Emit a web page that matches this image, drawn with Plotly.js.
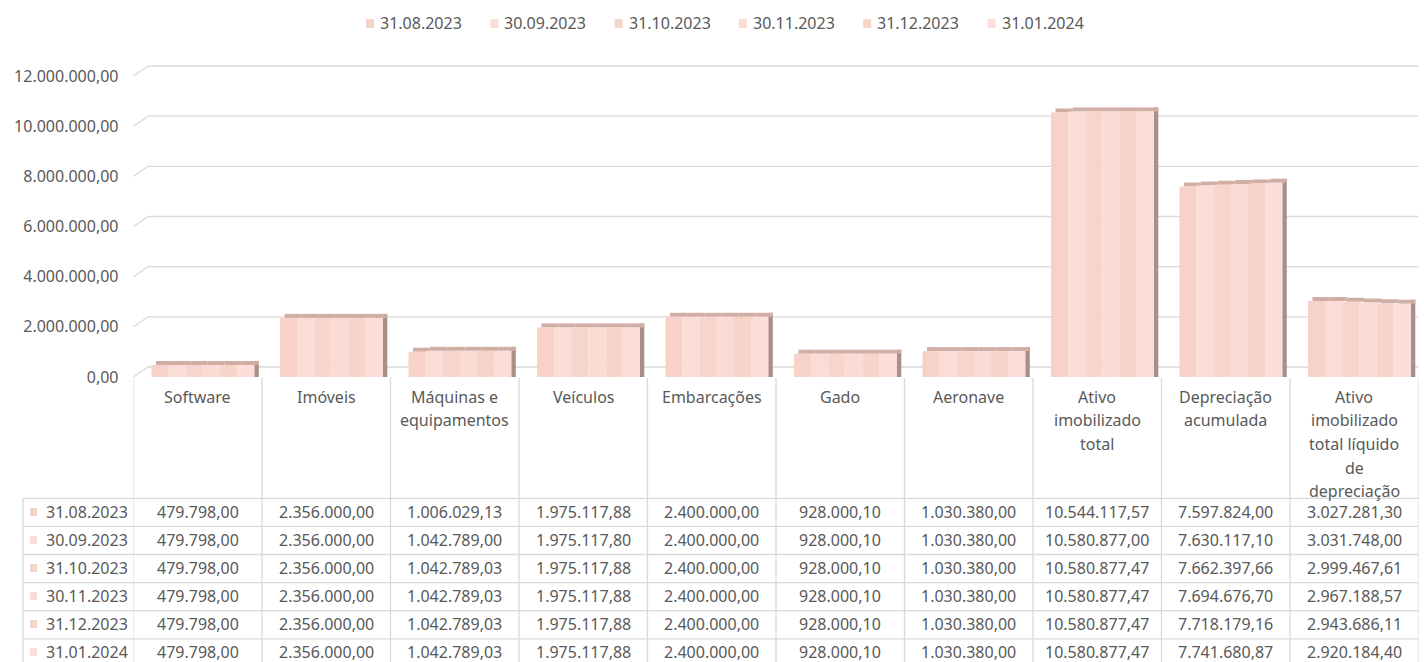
<!DOCTYPE html>
<html><head><meta charset="utf-8">
<script src="https://cdn.plot.ly/plotly-3.0.1.min.js"></script>
<style>html,body{margin:0;padding:0;background:#fff}#chart{width:1424px;height:662px}</style>
</head><body><div id="chart"></div>
<script>
const categories = ['Software','Imóveis','Máquinas e equipamentos','Veículos','Embarcações','Gado','Aeronave','Ativo imobilizado total','Depreciação acumulada','Ativo imobilizado total líquido de depreciação'];
const categoryLines = [['Software'],['Imóveis'],['Máquinas e','equipamentos'],['Veículos'],['Embarcações'],['Gado'],['Aeronave'],['Ativo','imobilizado','total'],['Depreciação','acumulada'],['Ativo','imobilizado','total líquido','de','depreciação']];
const seriesNames = ['31.08.2023','30.09.2023','31.10.2023','30.11.2023','31.12.2023','31.01.2024'];
const s_2023_08 = [479798.00, 2356000.00, 1006029.13, 1975117.88, 2400000.00, 928000.10, 1030380.00, 10544117.57, 7597824.00, 3027281.30];
const s_2023_09 = [479798.00, 2356000.00, 1042789.00, 1975117.80, 2400000.00, 928000.10, 1030380.00, 10580877.00, 7630117.10, 3031748.00];
const s_2023_10 = [479798.00, 2356000.00, 1042789.03, 1975117.88, 2400000.00, 928000.10, 1030380.00, 10580877.47, 7662397.66, 2999467.61];
const s_2023_11 = [479798.00, 2356000.00, 1042789.03, 1975117.88, 2400000.00, 928000.10, 1030380.00, 10580877.47, 7694676.70, 2967188.57];
const s_2023_12 = [479798.00, 2356000.00, 1042789.03, 1975117.88, 2400000.00, 928000.10, 1030380.00, 10580877.47, 7718179.16, 2943686.11];
const s_2024_01 = [479798.00, 2356000.00, 1042789.03, 1975117.88, 2400000.00, 928000.10, 1030380.00, 10580877.47, 7741680.87, 2920184.40];
const yTicks = [0, 2000000, 4000000, 6000000, 8000000, 10000000, 12000000];

const series = [s_2023_08, s_2023_09, s_2023_10, s_2023_11, s_2023_12, s_2024_01];
const frontColors = ['#f7d2c8','#f9ddd6','#f7d5cc','#fadcd5','#f7d3ca','#fbded7'];
const FONT = 'Noto Sans, DejaVu Sans, sans-serif';
const TXT = '#595959';
const GRID = '#d9d9d9';
const W = 0.8 / 6, START = -0.36, TOP = 160000;
const H = 662, PW = 1424;
const py = p => 1 - p / H;
const px = p => p / PW;
const Y_MAX = 12500000;

function fmt(v) {
  const parts = v.toFixed(2).split('.');
  return parts[0].replace(/\B(?=(\d{3})+(?!\d))/g, '.') + ',' + parts[1];
}

const traces = [];
// side faces
traces.push({type:'bar', x: categories, y: series[5].map(v => v + TOP),
  offset: 0.44, width: 0.035, marker:{color:'#a89089', line:{width:0}}, showlegend:false, hoverinfo:'skip'});
// top faces
series.forEach((s, i) => traces.push({type:'bar', x: categories, base: s, y: s.map(() => TOP),
  offset: START + i * W + 0.035, width: W, marker:{color:'#d0aea4', line:{width:0}}, showlegend:false, hoverinfo:'skip'}));
// front faces
series.forEach((s, i) => traces.push({type:'bar', x: categories, y: s, name: seriesNames[i],
  offset: START + i * W, width: W, marker:{color: frontColors[i], line:{width:0}}, showlegend:false, hoverinfo:'skip'}));

const annotations = [];
const shapes = [];
// legend (top)
seriesNames.forEach((n, i) => {
  const lx = 366 + 124.3 * i;
  shapes.push({type:'rect', xref:'paper', yref:'paper', x0: px(lx), x1: px(lx + 8), y0: py(19), y1: py(28),
    fillcolor: frontColors[i], line:{width:0}});
  annotations.push({xref:'paper', yref:'paper', x: px(lx + 12), y: py(23), text: n, showarrow:false,
    xanchor:'left', yanchor:'middle', font:{family:FONT, size:16, color:TXT}});
});
// category labels
categoryLines.forEach((lines, c) => lines.forEach((t, k) => annotations.push({
  xref:'x', yref:'paper', x: c, y: py(397 + 23.5 * k), text: t, showarrow:false,
  xanchor:'center', yanchor:'middle', font:{family:FONT, size:16, color:TXT}})));
// table rows
series.forEach((s, r) => {
  const yc = 512 + 28 * r;
  annotations.push({xref:'paper', yref:'paper', x: px(44), y: py(yc), text: seriesNames[r], showarrow:false,
    xanchor:'left', yanchor:'middle', font:{family:FONT, size:16, color:TXT}});
  shapes.push({type:'rect', xref:'paper', yref:'paper', x0: px(30), x1: px(37), y0: py(yc - 4), y1: py(yc + 4),
    fillcolor: frontColors[r], line:{width:0}});
  s.forEach((v, c) => annotations.push({xref:'x', yref:'paper', x: c, y: py(yc), text: fmt(v), showarrow:false,
    xanchor:'center', yanchor:'middle', font:{family:FONT, size:16, color:TXT}}));
});
// table lines
for (let k = 0; k <= categories.length; k++) {
  shapes.push({type:'line', xref:'x', yref:'paper', x0: k - 0.5, x1: k - 0.5, y0: py(378), y1: 0, line:{color:GRID, width:1.3}});
}
for (let r = 0; r <= series.length; r++) {
  const yl = 498.3 + 28.1 * r;
  shapes.push({type:'line', xref:'paper', yref:'paper', x0: px(23), x1: px(1418.5), y0: py(yl), y1: py(yl), line:{color:GRID, width:1.3}});
}
shapes.push({type:'line', xref:'paper', yref:'paper', x0: px(23), x1: px(23), y0: py(498.3), y1: 0, line:{color:GRID, width:1.3}});
// back-wall gridlines and their perspective diagonals
yTicks.forEach(v => {
  shapes.push({type:'line', layer:'below', xref:'paper', xsizemode:'pixel', xanchor: px(133.5),
    x0: 0, x1: 14.5, yref:'y', ysizemode:'pixel', yanchor: v, y0: 0, y1: 10, line:{color:GRID, width:1.3}});
  shapes.push({type:'line', layer:'below', xref:'paper', xsizemode:'pixel', xanchor: px(148),
    x0: 0, x1: 1270.5, yref:'y', ysizemode:'pixel', yanchor: v, y0: 10, y1: 10, line:{color:GRID, width:1.3}});
});

const yTopPx = 377 - (Y_MAX / 12000000) * 301;
const layout = {
  width: 1424, height: 662,
  margin:{l:0, r:0, t:0, b:0},
  paper_bgcolor:'#ffffff', plot_bgcolor:'#ffffff',
  separators: ',.',
  barmode:'overlay',
  hovermode:false,
  showlegend:false,
  xaxis:{domain:[px(133.5), px(1418.5)], type:'category', range:[-0.5, 9.5], showgrid:false, zeroline:false,
    showticklabels:false, showline:false, fixedrange:true},
  yaxis:{domain:[py(377), py(yTopPx)], range:[0, Y_MAX], tickvals: yTicks, tickformat:',.2f', showgrid:false,
    zeroline:false, showline:false, ticks:'', ticklabelstandoff: 14, tickfont:{family:FONT, size:16, color:TXT}, fixedrange:true},
  annotations, shapes
};
Plotly.newPlot('chart', traces, layout, {displayModeBar:false, staticPlot:true});
</script>
</body></html>
